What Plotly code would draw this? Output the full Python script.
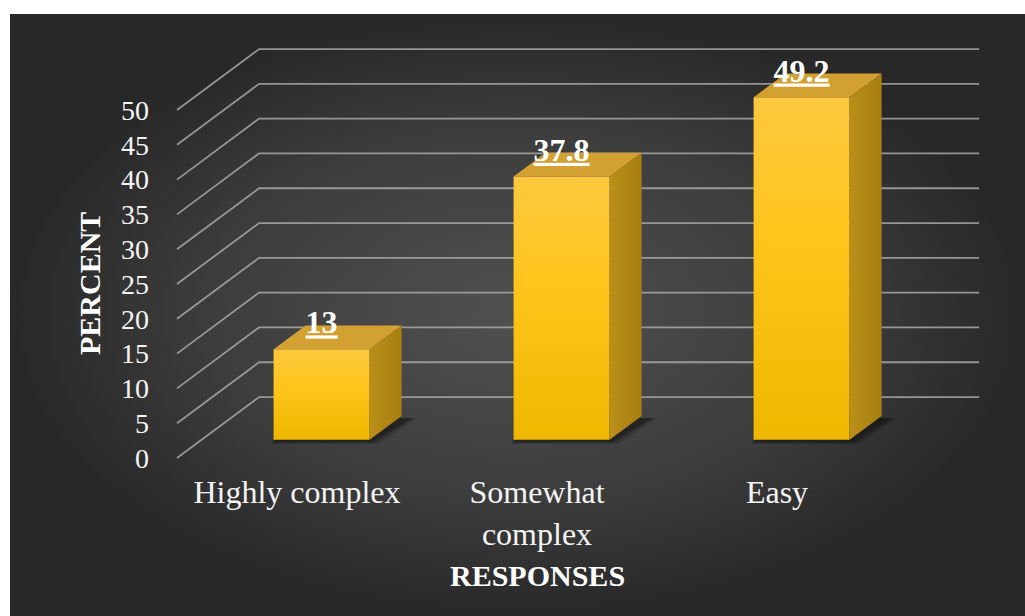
import plotly.graph_objects as go

# ---- data -------------------------------------------------------------
categories = ["Highly complex", "Somewhat<br>complex", "Easy"]
percent = [13, 37.8, 49.2]
y_ticks = [0, 5, 10, 15, 20, 25, 30, 35, 40, 45, 50]
y_tick_labels = [str(t) for t in y_ticks]
x_title = "RESPONSES"
y_title = "PERCENT"

# ---- page geometry ------------------------------------------------------
W, H = 1025, 616
ML, MT = 10, 14                 # white strip on the left / top
PX_PER_CAT = 240.0              # horizontal pixels per category step
PX_PER_PCT = 6.96               # vertical pixels per percent
ORIGIN_X, ORIGIN_Y = 297.0, 458.0   # pixel of (category 0, 0 %) on the front plane

# oblique depth of the 3-D box (in axis units)
DX, DY = 0.342, 8.76
F0, F1 = 0.30, 0.69             # bar front / back as a fraction of the depth
BW = 0.40                       # bar width in category units

x_range = [(ML - ORIGIN_X) / PX_PER_CAT, (W - ORIGIN_X) / PX_PER_CAT]
y_range = [(ORIGIN_Y - H) / PX_PER_PCT, (ORIGIN_Y - MT) / PX_PER_PCT]
x_lo, x_hi = -0.5, len(categories) - 0.5

FONT = "Liberation Serif, Times New Roman, serif"

fig = go.Figure()

# dark vignette background
fig.add_trace(go.Scatter(
    x=[x_range[0], x_range[1], x_range[1], x_range[0], x_range[0]],
    y=[y_range[0], y_range[0], y_range[1], y_range[1], y_range[0]],
    mode="lines", line=dict(width=0), fill="toself",
    fillgradient=dict(type="radial",
                      colorscale=[[0, "#505050"], [0.6, "#3d3d3d"], [1, "#282828"]]),
    hoverinfo="skip", showlegend=False))

# gridlines: left-wall diagonal then along the back wall
gx, gy = [], []
for t in y_ticks:
    gx += [x_lo, x_lo + DX, x_hi + DX, None]
    gy += [t, t + DY, t + DY, None]
fig.add_trace(go.Scatter(x=gx, y=gy, mode="lines",
                         line=dict(color="rgba(175,175,175,0.8)", width=1.8),
                         hoverinfo="skip", showlegend=False))

def poly(pts, **kw):
    xs = [p[0] for p in pts] + [pts[0][0]]
    ys = [p[1] for p in pts] + [pts[0][1]]
    fig.add_trace(go.Scatter(x=xs, y=ys, mode="lines", line=dict(width=0),
                             fill="toself", hoverinfo="skip", showlegend=False, **kw))

ddx, ddy = (F1 - F0) * DX, (F1 - F0) * DY
label_x, label_y, label_t = [], [], []
for i, v in enumerate(percent):
    xc = i + F0 * DX
    xl, xr = xc - BW / 2, xc + BW / 2
    yb = F0 * DY
    yt = yb + v

    # soft floor shadow
    for k, op in enumerate([0.18, 0.22, 0.28]):
        grow = 0.035 - 0.012 * k
        poly([(xl - 0.01, yb - 0.6 + 0.15 * k),
              (xr + grow, yb - 0.6 + 0.15 * k),
              (xr + ddx + grow + 0.03, yb + ddy - 0.3),
              (xl + ddx, yb + ddy - 0.3)],
             fillcolor=f"rgba(10,10,10,{op})")

    # front face
    poly([(xl, yb), (xr, yb), (xr, yt), (xl, yt)],
         fillgradient=dict(type="vertical",
                           colorscale=[[0, "#F0B700"], [0.6, "#FFC51C"], [1, "#FDC83F"]]))
    # top face
    poly([(xl, yt), (xr, yt), (xr + ddx, yt + ddy), (xl + ddx, yt + ddy)],
         fillcolor="#D3A032")
    # side face
    poly([(xr, yb), (xr + ddx, yb + ddy), (xr + ddx, yt + ddy), (xr, yt)],
         fillgradient=dict(type="horizontal",
                           colorscale=[[0, "#BA8F19"], [1, "#A67F11"]]))

    label_x.append(xc)
    label_y.append(yt + ddy)
    label_t.append(f"<b><u>{v:g}</u></b>")

# value labels
fig.add_trace(go.Scatter(x=label_x, y=label_y, mode="text", text=label_t,
                         textposition="middle center",
                         textfont=dict(family=FONT, size=32, color="white"),
                         hoverinfo="skip", showlegend=False, cliponaxis=False))

fig.update_layout(
    width=W, height=H,
    margin=dict(l=ML, r=0, t=MT, b=0, pad=0),
    paper_bgcolor="white", plot_bgcolor="#2b2b2b",
    showlegend=False,
    font=dict(family=FONT, color="white"),
    xaxis=dict(range=x_range, anchor="free",
               position=(H - ORIGIN_Y) / (H - MT),
               tickmode="array", tickvals=list(range(len(categories))),
               ticktext=categories, tickfont=dict(size=32, color="#f4f4f4"),
               ticks="", ticklabelstandoff=12,
               showgrid=False, zeroline=False, showline=False, fixedrange=True),
    yaxis=dict(range=y_range, anchor="free",
               position=(ORIGIN_X - 0.5 * PX_PER_CAT - ML) / (W - ML),
               tickmode="array", tickvals=y_ticks, ticktext=y_tick_labels,
               tickfont=dict(size=28, color="#f4f4f4"),
               ticks="", ticklabelstandoff=28,
               showgrid=False, zeroline=False, showline=False, fixedrange=True),
    annotations=[
        dict(text=f"<b>{x_title}</b>", xref="x", yref="y", x=1, y=(ORIGIN_Y - 575) / PX_PER_PCT,
             showarrow=False, font=dict(family=FONT, size=30, color="white"),
             xanchor="center", yanchor="middle"),
        dict(text=f"<b>{y_title}</b>", xref="paper", yref="y",
             x=(89 - ML) / (W - ML), y=25, textangle=-90,
             showarrow=False, font=dict(family=FONT, size=30, color="white"),
             xanchor="center", yanchor="middle"),
    ],
)

fig.write_html("out.html")
